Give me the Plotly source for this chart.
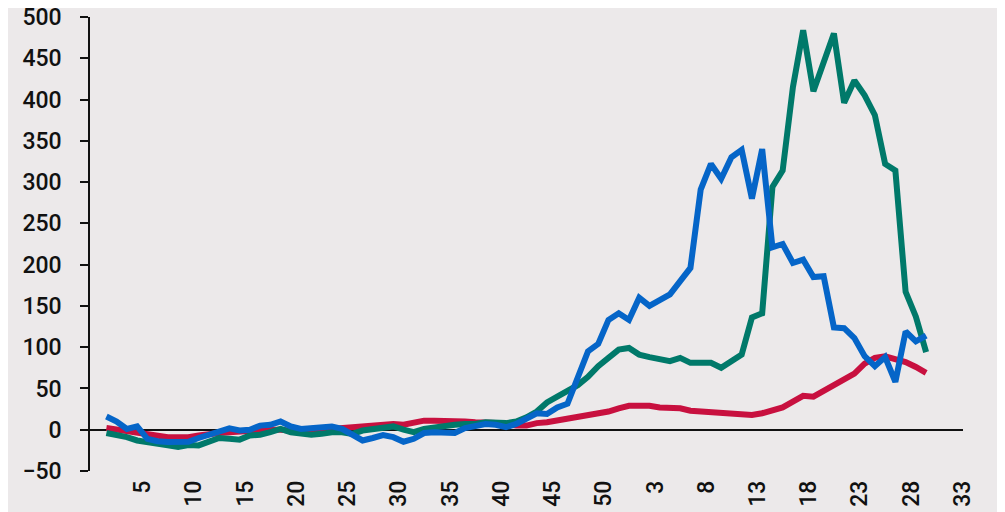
import plotly.graph_objects as go

# week index (1..52 of year one, then 1..29 of year two)
week_index = list(range(1, 82))

blue_values = [16, 10, 1, 4, -11, -14, -15, -15, -14.5, -10, -6, -2, 1.6, -1, 0, 5, 6, 10, 4, 1,
               2, 3, 4, 1, -6, -13, -10, -6.5, -9, -14.5, -11, -4, -3, -3, -4, 2, 4, 7, 6, 3,
               7, 13, 20, 19, 27, 31.5, 64, 95, 104, 133, 141, 133, 160, 150, 157, 164, 180, 196, 291, 322,
               304, 330, 339, 280, 340, 221, 225, 202, 206, 185, 186, 124, 123, 111, 89, 77, 88, 58, 119, 107,
               114]

red_values = [2, 0, -2, -4, -6, -8, -9, -9, -9, -7, -5, -4, -3, -2, -1, -1, 0, 0, -1, -2,
              -1, 0, 1, 2, 2, 3, 5, 6, 7, 6, 9, 11, 11, 11, 10, 10, 9, 9, 8, 7,
              5, 5, 8, 9, 11, 14, 15, 17, 20, 22, 26, 29, 29, 29, 27, 26, 26, 23, 22, 22,
              21, 20, 19, 18, 20, 24, 27, 34, 41, 40, 47, 52, 60, 68, 80, 87, 89, 85, 82, 76,
              69]

green_values = [-4, -6, -9, -13, -14.5, -16, -19, -21, -18.5, -19, -15, -10, -11, -12, -7, -6, -3, 1, -3, -5,
                -6, -5, -3, -3, -5, -1, 1, 2, 4, 0, -3, 1, 3, 4, 6, 7, 7, 9, 9, 8,
                10, 15, 22, 33, 40, 46, 54, 64, 77, 87, 97, 99, 91, 88, 85, 83, 87, 81, 81, 81,
                75, 84, 91, 136, 141, 294, 314, 415, 484, 410, 447, 480, 396, 423, 405, 381, 322, 314, 167, 137,
                94]

tick_positions = [5, 10, 15, 20, 25, 30, 35, 40, 45, 50, 55, 60, 65, 70, 75, 80, 85]
tick_labels = ["5", "10", "15", "20", "25", "30", "35", "40", "45", "50",
               "3", "8", "13", "18", "23", "28", "33"]

y_ticks = [-50, 0, 50, 100, 150, 200, 250, 300, 350, 400, 450, 500]

BG = "#ECE9EA"
FONT = dict(family="Roboto, Arial, sans-serif", size=23, color="#111111", weight=500)

fig = go.Figure()
for vals, col in [(red_values, "#C8103F"), (green_values, "#00796A"), (blue_values, "#0565C8")]:
    fig.add_trace(go.Scatter(x=week_index, y=vals, mode="lines",
                             line=dict(color=col, width=6), showlegend=False,
                             hoverinfo="skip"))

# page body has an 8px margin, so the figure is sized to the visible area
fig.update_layout(
    width=997, height=504,
    paper_bgcolor=BG, plot_bgcolor=BG,
    margin=dict(l=82, r=42, t=9, b=41),
    font=FONT,
    showlegend=False,
)
fig.update_xaxes(
    range=[-0.6, 84.6],
    tickmode="array",
    tickvals=[t - 0.45 for t in tick_positions],
    ticktext=tick_labels,
    tickangle=-90,
    showgrid=False, zeroline=False, showline=False, ticks="",
    tickfont=FONT, automargin=False, ticklabelstandoff=4,
    ticklabeloverflow="allow",
)
fig.update_yaxes(
    range=[-50, 500],
    tickmode="array", tickvals=y_ticks,
    showgrid=False,
    zeroline=True, zerolinecolor="#111111", zerolinewidth=1.5,
    showline=True, linecolor="#111111", linewidth=1.5,
    ticks="outside", ticklen=8, tickcolor="#111111", tickwidth=1.5,
    tickfont=FONT, automargin=False, ticklabelstandoff=14,
    ticklabeloverflow="allow",
)

fig.write_html("out.html")
